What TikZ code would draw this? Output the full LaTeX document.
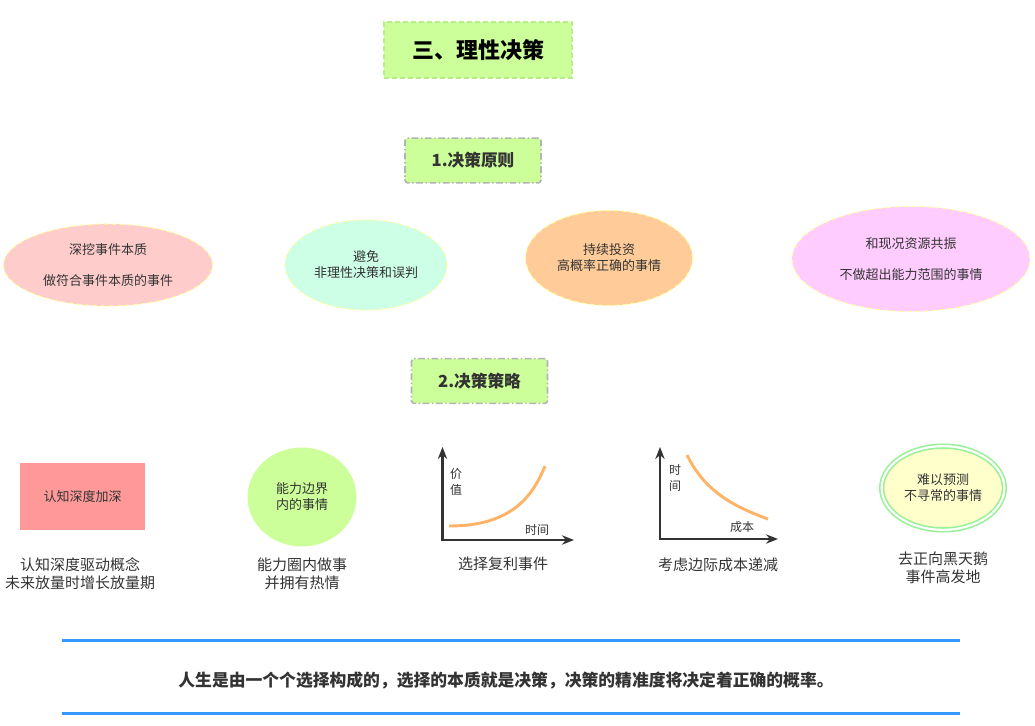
\documentclass[tikz,border=0pt]{standalone}
\usepackage{fontspec}
\setmainfont{Noto Sans CJK SC}
\usetikzlibrary{positioning, shapes.geometric, arrows.meta}

\definecolor{ink}{HTML}{333333}
\definecolor{lime}{HTML}{CCFF99}
\definecolor{limeline}{HTML}{B8EE88}
\definecolor{partline}{HTML}{B3B3B3}
\definecolor{rosy}{HTML}{FFCCCC}
\definecolor{mint}{HTML}{CCFFE6}
\definecolor{peach}{HTML}{FFCC99}
\definecolor{violet}{HTML}{FFCCFF}
\definecolor{rimline}{HTML}{FFFF99}
\definecolor{salmon}{HTML}{FF9999}
\definecolor{swanfill}{HTML}{FFFFCC}
\definecolor{swanline}{HTML}{99F099}
\definecolor{curveline}{HTML}{FFB366}
\definecolor{sepline}{HTML}{3399FF}

\begin{document}
\begin{tikzpicture}[x=0.75pt, y=-0.75pt,
    every node/.style={text=ink, inner sep=0pt, align=center},
    headbox/.style={fill=lime, draw=limeline, line width=1pt, dash pattern=on 4pt off 2pt,
        minimum width=141pt, minimum height=42pt, text=black,
        font=\bfseries\fontsize{16.5}{20}\selectfont},
    partbox/.style={fill=lime, draw=partline, line width=1.2pt, rounded corners=2pt,
        dash pattern=on 5pt off 2pt on 1pt off 2pt,
        minimum width=102pt, minimum height=33.5pt,
        font=\bfseries\fontsize{12.5}{15}\selectfont},
    rulebox/.style={ellipse, draw=rimline, line width=0.8pt, dashed,
        font=\fontsize{9.75}{12}\selectfont},
    waybox/.style={font=\fontsize{9.75}{12}\selectfont},
    notetext/.style={font=\fontsize{11.25}{13.5}\selectfont},
    tagtext/.style={font=\fontsize{9}{12}\selectfont},
    axis/.style={draw=ink, line width=1.6pt, >={Stealth[length=9pt, width=7pt]}, <->},
    trend/.style={draw=curveline, line width=2.2pt},
    rule line/.style={draw=sepline, line width=2.2pt}]

        \useasboundingbox (0,0) rectangle (1035,725);

        \node[headbox] (title) at (478,50) {三、理性决策};

        \node[partbox] (part 1) at (473,160.5) {1.决策原则};
        \node[partbox] (part 2) at (479.5,381) {2.决策策略};

        % principles
        \node[rulebox, fill=rosy, minimum width=156.75pt, minimum height=61.5pt] (rule 1) at (108,265)
            {深挖事件本质\\[11.25pt]做符合事件本质的事件};
        \node[rulebox, fill=mint, minimum width=121.5pt, minimum height=67.5pt] (rule 2) at (366,265)
            {避免\\非理性决策和误判};
        \node[rulebox, fill=peach, minimum width=125.25pt, minimum height=71.25pt] (rule 3) at (609,258)
            {持续投资\\高概率正确的事情};
        \node[rulebox, fill=violet, minimum width=178.5pt, minimum height=78.75pt] (rule 4) at (911,259)
            {和现况资源共振\\[11.25pt]不做超出能力范围的事情};

        % strategies
        \node[waybox, fill=salmon, minimum width=93.75pt, minimum height=50.25pt] (way 1) at (82.5,496.5) {认知深度加深};
        \node[waybox, ellipse, fill=lime, minimum width=81.75pt, minimum height=74.25pt] (way 2) at (302,497) {能力边界\\内的事情};
        \node[waybox, ellipse, fill=swanfill, draw=swanline, line width=1.2pt, double=white, double distance=1.6pt,
            minimum width=92pt, minimum height=62.75pt] (way 5) at (943,488) {难以预测\\不寻常的事情};

        \coordinate (top 3) at (442.5,447);
        \coordinate (origin 3) at (442.5,540);
        \coordinate (end 3) at (574,540);
        \coordinate (grow a) at (449,526);
        \coordinate (grow b) at (545,466);
        \draw[axis] (top 3) -- (origin 3) -- (end 3);
        \draw[trend] (grow a) .. controls (510,526) and (532,498) .. (grow b);
        \node[tagtext] (tag 3y) at (456,482) {价\\值};
        \node[tagtext] (tag 3x) at (537,530) {时间};

        \coordinate (top 4) at (660,447);
        \coordinate (origin 4) at (660,539);
        \coordinate (end 4) at (778,539);
        \coordinate (fall a) at (687,455);
        \coordinate (fall b) at (768,519);
        \draw[axis] (top 4) -- (origin 4) -- (end 4);
        \draw[trend] (fall a) .. controls (705,492) and (735,507) .. (fall b);
        \node[tagtext] (tag 4y) at (675,478) {时\\间};
        \node[tagtext] (tag 4x) at (742,527) {成本};

        \node[notetext] (note 1) at (80,574) {认知深度驱动概念\\未来放量时增长放量期};
        \node[notetext] (note 2) at (302,574) {能力圈内做事\\并拥有热情};
        \node[notetext] (note 3) at (503,564) {选择复利事件};
        \node[notetext] (note 4) at (718,565) {考虑边际成本递减};
        \node[notetext] (note 5) at (943,567.5) {去正向黑天鹅\\事件高发地};

        % closing line
        \coordinate (line 1 a) at (62,640.5);
        \coordinate (line 1 b) at (960,640.5);
        \coordinate (line 2 a) at (62,713.5);
        \coordinate (line 2 b) at (960,713.5);
        \draw[rule line] (line 1 a) -- (line 1 b);
        \draw[rule line] (line 2 a) -- (line 2 b);
        \node[font=\bfseries\fontsize{12.6}{15}\selectfont] (motto) at (506,680)
            {人生是由一个个选择构成的，选择的本质就是决策，决策的精准度将决定着正确的概率。};

    \end{tikzpicture}
\end{document}
